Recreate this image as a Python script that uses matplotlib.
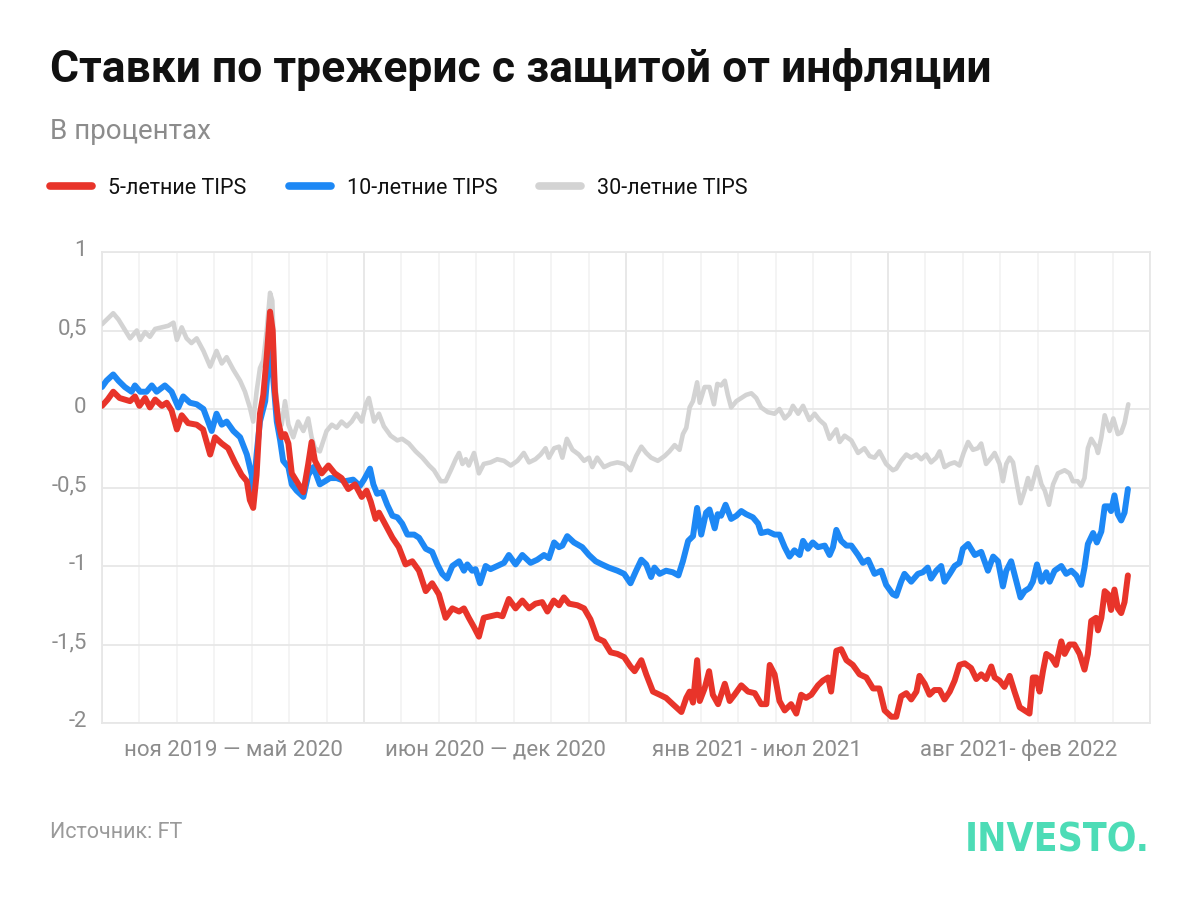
import matplotlib.pyplot as plt
from matplotlib.lines import Line2D
from matplotlib.transforms import ScaledTranslation

# Months since the start of Nov 2019, and the yield in percent
red_data = [
    (0.0, 0.02), (0.15, 0.06), (0.3, 0.11), (0.47, 0.07), (0.75, 0.05), (0.88, 0.08), (1.0, 0.02),
    (1.15, 0.07), (1.28, 0.01), (1.42, 0.06), (1.6, 0.02), (1.73, 0.04), (1.86, -0.01), (2.0, -0.13),
    (2.13, -0.04), (2.3, -0.09), (2.53, -0.10), (2.7, -0.13), (2.89, -0.29), (3.02, -0.18), (3.2, -0.22),
    (3.37, -0.25), (3.55, -0.34), (3.73, -0.42), (3.87, -0.46), (3.95, -0.58), (4.04, -0.63), (4.13, -0.42),
    (4.22, -0.03), (4.31, 0.09), (4.4, 0.33), (4.49, 0.62), (4.56, 0.50), (4.62, 0.11), (4.71, -0.08),
    (4.8, -0.18), (4.89, -0.16), (4.98, -0.22), (5.07, -0.41), (5.2, -0.46), (5.38, -0.53), (5.51, -0.35),
    (5.6, -0.21), (5.69, -0.33), (5.87, -0.41), (6.05, -0.36), (6.22, -0.41), (6.4, -0.44), (6.58, -0.51),
    (6.76, -0.48), (6.94, -0.56), (7.07, -0.52), (7.18, -0.59), (7.31, -0.70), (7.4, -0.66), (7.58, -0.74),
    (7.76, -0.82), (7.93, -0.88), (8.11, -0.99), (8.29, -0.97), (8.47, -1.03), (8.65, -1.16), (8.82, -1.11),
    (9.0, -1.18), (9.18, -1.33), (9.36, -1.27), (9.54, -1.29), (9.67, -1.27), (9.8, -1.33), (9.94, -1.39),
    (10.07, -1.45), (10.2, -1.33), (10.38, -1.32), (10.56, -1.31), (10.7, -1.32), (10.87, -1.21),
    (11.05, -1.27), (11.23, -1.22), (11.41, -1.27), (11.58, -1.24), (11.76, -1.23), (11.9, -1.29),
    (12.07, -1.22), (12.21, -1.25), (12.34, -1.20), (12.48, -1.24), (12.7, -1.25), (12.88, -1.27),
    (13.05, -1.34), (13.23, -1.46), (13.41, -1.48), (13.59, -1.55), (13.77, -1.56), (13.95, -1.58),
    (14.12, -1.64), (14.23, -1.67), (14.41, -1.60), (14.54, -1.69), (14.72, -1.80), (14.9, -1.82),
    (15.07, -1.84), (15.25, -1.88), (15.48, -1.93), (15.61, -1.84), (15.7, -1.80), (15.79, -1.87),
    (15.9, -1.60), (15.97, -1.86), (16.1, -1.78), (16.22, -1.67), (16.32, -1.82), (16.46, -1.88),
    (16.64, -1.75), (16.77, -1.86), (16.9, -1.82), (17.08, -1.76), (17.26, -1.80), (17.44, -1.81),
    (17.61, -1.88), (17.75, -1.88), (17.84, -1.63), (17.97, -1.69), (18.1, -1.86), (18.24, -1.92),
    (18.41, -1.88), (18.55, -1.94), (18.68, -1.82), (18.81, -1.84), (18.95, -1.82), (19.13, -1.76),
    (19.26, -1.73), (19.4, -1.71), (19.48, -1.80), (19.62, -1.54), (19.75, -1.53), (19.89, -1.60),
    (20.06, -1.63), (20.24, -1.69), (20.42, -1.71), (20.6, -1.78), (20.77, -1.78), (20.91, -1.92),
    (21.09, -1.96), (21.22, -1.96), (21.35, -1.83), (21.49, -1.81), (21.62, -1.85), (21.76, -1.80),
    (21.84, -1.70), (21.98, -1.75), (22.11, -1.82), (22.24, -1.79), (22.38, -1.79), (22.51, -1.85),
    (22.65, -1.80), (22.78, -1.73), (22.91, -1.63), (23.05, -1.62), (23.22, -1.65), (23.36, -1.72),
    (23.49, -1.69), (23.62, -1.72), (23.76, -1.64), (23.85, -1.71), (23.98, -1.73), (24.11, -1.77),
    (24.25, -1.70), (24.38, -1.80), (24.52, -1.90), (24.65, -1.92), (24.78, -1.94), (24.87, -1.71),
    (24.96, -1.71), (25.05, -1.80), (25.14, -1.67), (25.23, -1.56), (25.36, -1.58), (25.49, -1.63),
    (25.63, -1.48), (25.72, -1.56), (25.85, -1.50), (25.98, -1.50), (26.12, -1.56), (26.25, -1.66),
    (26.34, -1.56), (26.43, -1.35), (26.56, -1.33), (26.61, -1.41), (26.7, -1.33), (26.79, -1.16),
    (26.88, -1.18), (26.96, -1.28), (27.05, -1.15), (27.14, -1.27), (27.23, -1.30), (27.32, -1.23),
    (27.41, -1.06),
]

blue_data = [
    (0.0, 0.14), (0.12, 0.18), (0.3, 0.22), (0.44, 0.18), (0.61, 0.14), (0.79, 0.11), (0.88, 0.15),
    (1.02, 0.11), (1.19, 0.11), (1.33, 0.15), (1.46, 0.11), (1.68, 0.15), (1.86, 0.11), (2.04, 0.01),
    (2.17, 0.08), (2.35, 0.04), (2.53, 0.03), (2.71, 0.0), (2.93, -0.14), (3.06, -0.03), (3.2, -0.10),
    (3.33, -0.08), (3.51, -0.14), (3.69, -0.18), (3.87, -0.29), (4.0, -0.42), (4.04, -0.55), (4.13, -0.29),
    (4.22, -0.08), (4.36, 0.05), (4.44, 0.28), (4.49, 0.58), (4.58, 0.18), (4.67, -0.08), (4.76, -0.20),
    (4.84, -0.33), (4.98, -0.37), (5.07, -0.48), (5.2, -0.52), (5.38, -0.56), (5.51, -0.42), (5.65, -0.37),
    (5.82, -0.48), (5.96, -0.46), (6.09, -0.44), (6.27, -0.44), (6.49, -0.46), (6.71, -0.45), (6.89, -0.49),
    (7.0, -0.45), (7.16, -0.38), (7.25, -0.48), (7.35, -0.54), (7.49, -0.53), (7.62, -0.61), (7.76, -0.68),
    (7.89, -0.69), (8.02, -0.73), (8.16, -0.80), (8.34, -0.80), (8.47, -0.82), (8.65, -0.89), (8.82, -0.91),
    (8.96, -0.99), (9.09, -1.05), (9.22, -1.08), (9.36, -1.00), (9.54, -0.97), (9.67, -1.03), (9.76, -0.99),
    (9.89, -1.03), (9.98, -1.02), (10.1, -1.11), (10.25, -1.00), (10.38, -1.02), (10.56, -1.00),
    (10.74, -0.98), (10.87, -0.93), (11.05, -0.99), (11.23, -0.93), (11.45, -0.98), (11.63, -0.96),
    (11.81, -0.93), (11.94, -0.95), (12.08, -0.85), (12.21, -0.88), (12.3, -0.87), (12.43, -0.81),
    (12.61, -0.85), (12.83, -0.88), (13.01, -0.93), (13.19, -0.97), (13.36, -0.99), (13.54, -1.01),
    (13.77, -1.03), (13.95, -1.05), (14.12, -1.11), (14.27, -1.03), (14.41, -0.96), (14.54, -0.99),
    (14.67, -1.07), (14.76, -1.01), (14.9, -1.05), (15.07, -1.03), (15.25, -1.04), (15.4, -1.06),
    (15.52, -0.97), (15.66, -0.84), (15.79, -0.81), (15.9, -0.63), (16.01, -0.80), (16.14, -0.66),
    (16.23, -0.64), (16.37, -0.76), (16.45, -0.67), (16.54, -0.68), (16.66, -0.61), (16.81, -0.70),
    (16.95, -0.68), (17.08, -0.65), (17.21, -0.67), (17.39, -0.69), (17.53, -0.73), (17.61, -0.79),
    (17.79, -0.78), (17.97, -0.80), (18.1, -0.80), (18.24, -0.88), (18.37, -0.94), (18.5, -0.90),
    (18.64, -0.93), (18.73, -0.84), (18.86, -0.89), (18.99, -0.85), (19.13, -0.88), (19.31, -0.87),
    (19.44, -0.93), (19.53, -0.88), (19.62, -0.77), (19.75, -0.84), (19.89, -0.87), (20.02, -0.87),
    (20.2, -0.93), (20.33, -0.98), (20.47, -0.96), (20.64, -1.05), (20.82, -1.03), (20.95, -1.12),
    (21.13, -1.18), (21.22, -1.19), (21.35, -1.10), (21.44, -1.05), (21.62, -1.10), (21.8, -1.05),
    (21.93, -1.04), (22.06, -1.01), (22.15, -1.08), (22.29, -1.03), (22.42, -1.00), (22.51, -1.10),
    (22.65, -1.05), (22.78, -1.00), (22.91, -0.98), (23.0, -0.89), (23.14, -0.86), (23.32, -0.93),
    (23.49, -0.91), (23.67, -1.03), (23.81, -0.94), (23.94, -0.97), (24.07, -1.13), (24.16, -1.03),
    (24.29, -0.97), (24.43, -1.10), (24.54, -1.20), (24.65, -1.16), (24.78, -1.14), (24.87, -1.10),
    (24.98, -0.99), (25.1, -1.10), (25.23, -1.04), (25.32, -1.10), (25.45, -1.03), (25.63, -1.00),
    (25.76, -1.05), (25.9, -1.03), (26.03, -1.06), (26.16, -1.12), (26.25, -1.01), (26.34, -0.86),
    (26.48, -0.79), (26.58, -0.85), (26.7, -0.78), (26.79, -0.62), (26.89, -0.62), (26.96, -0.65),
    (27.05, -0.55), (27.14, -0.67), (27.23, -0.71), (27.32, -0.66), (27.41, -0.51),
]

grey_data = [
    (0.0, 0.54), (0.17, 0.58), (0.3, 0.61), (0.44, 0.57), (0.57, 0.52), (0.75, 0.45), (0.93, 0.50),
    (1.02, 0.44), (1.15, 0.49), (1.28, 0.46), (1.42, 0.51), (1.59, 0.52), (1.77, 0.53), (1.91, 0.55),
    (2.0, 0.44), (2.13, 0.52), (2.26, 0.45), (2.39, 0.42), (2.53, 0.45), (2.71, 0.37), (2.89, 0.27),
    (3.06, 0.37), (3.2, 0.29), (3.33, 0.33), (3.51, 0.25), (3.69, 0.18), (3.82, 0.11), (3.95, 0.01),
    (4.04, -0.08), (4.13, 0.11), (4.22, 0.26), (4.31, 0.31), (4.4, 0.50), (4.49, 0.74), (4.55, 0.69),
    (4.62, 0.18), (4.71, -0.03), (4.8, -0.10), (4.89, 0.05), (4.98, -0.10), (5.11, -0.18), (5.24, -0.08),
    (5.38, -0.14), (5.51, -0.06), (5.6, -0.18), (5.69, -0.25), (5.82, -0.27), (6.0, -0.14), (6.14, -0.10),
    (6.27, -0.12), (6.4, -0.08), (6.54, -0.11), (6.67, -0.08), (6.8, -0.03), (6.94, -0.08), (7.05, 0.03),
    (7.13, 0.07), (7.27, -0.08), (7.4, -0.03), (7.53, -0.11), (7.71, -0.17), (7.89, -0.20), (8.02, -0.19),
    (8.2, -0.22), (8.38, -0.27), (8.56, -0.31), (8.74, -0.36), (8.87, -0.39), (9.05, -0.46), (9.18, -0.46),
    (9.32, -0.39), (9.45, -0.32), (9.54, -0.28), (9.63, -0.35), (9.72, -0.32), (9.8, -0.36), (9.94, -0.28),
    (10.07, -0.41), (10.2, -0.35), (10.38, -0.34), (10.56, -0.32), (10.74, -0.33), (10.92, -0.36),
    (11.1, -0.33), (11.27, -0.28), (11.41, -0.34), (11.58, -0.32), (11.72, -0.29), (11.85, -0.25),
    (11.94, -0.31), (12.08, -0.25), (12.21, -0.24), (12.3, -0.31), (12.42, -0.19), (12.57, -0.26),
    (12.74, -0.29), (12.88, -0.33), (13.01, -0.31), (13.1, -0.37), (13.23, -0.31), (13.41, -0.37),
    (13.59, -0.35), (13.77, -0.34), (13.95, -0.35), (14.12, -0.39), (14.27, -0.30), (14.41, -0.24),
    (14.54, -0.28), (14.67, -0.31), (14.85, -0.33), (15.03, -0.30), (15.16, -0.27), (15.3, -0.23),
    (15.43, -0.26), (15.52, -0.16), (15.61, -0.12), (15.7, 0.01), (15.79, 0.05), (15.9, 0.17),
    (15.97, 0.04), (16.1, 0.14), (16.23, 0.14), (16.35, 0.03), (16.44, 0.16), (16.54, 0.15), (16.64, 0.18),
    (16.72, 0.09), (16.81, 0.01), (16.95, 0.05), (17.08, 0.07), (17.21, 0.09), (17.35, 0.10), (17.48, 0.07),
    (17.61, 0.01), (17.79, -0.02), (17.97, -0.03), (18.1, 0.00), (18.24, -0.06), (18.37, -0.03),
    (18.46, 0.02), (18.6, -0.03), (18.73, 0.02), (18.9, -0.07), (19.04, -0.03), (19.17, -0.07),
    (19.31, -0.10), (19.44, -0.19), (19.62, -0.13), (19.71, -0.21), (19.84, -0.17), (20.02, -0.20),
    (20.2, -0.28), (20.37, -0.25), (20.51, -0.30), (20.64, -0.31), (20.77, -0.27), (20.95, -0.35),
    (21.13, -0.39), (21.22, -0.38), (21.35, -0.33), (21.49, -0.29), (21.62, -0.31), (21.76, -0.29),
    (21.89, -0.32), (22.02, -0.29), (22.15, -0.34), (22.29, -0.31), (22.38, -0.27), (22.51, -0.37),
    (22.65, -0.35), (22.78, -0.34), (22.91, -0.36), (23.02, -0.28), (23.14, -0.21), (23.27, -0.26),
    (23.4, -0.25), (23.49, -0.22), (23.62, -0.35), (23.76, -0.31), (23.85, -0.28), (23.98, -0.35),
    (24.07, -0.46), (24.16, -0.35), (24.25, -0.31), (24.34, -0.34), (24.43, -0.46), (24.54, -0.60),
    (24.65, -0.52), (24.74, -0.44), (24.82, -0.51), (24.98, -0.37), (25.1, -0.48), (25.19, -0.52),
    (25.3, -0.61), (25.41, -0.48), (25.54, -0.41), (25.72, -0.39), (25.85, -0.41), (25.94, -0.46),
    (26.07, -0.46), (26.16, -0.49), (26.25, -0.44), (26.34, -0.25), (26.43, -0.19), (26.56, -0.24),
    (26.61, -0.28), (26.7, -0.18), (26.79, -0.04), (26.92, -0.14), (27.02, -0.06), (27.14, -0.16),
    (27.23, -0.15), (27.32, -0.09), (27.42, 0.03),
]

series_names = ['5-летние TIPS', '10-летние TIPS', '30-летние TIPS']
series_colors = ['#e8342a', '#1d88f5', '#d3d3d3']

y_ticks = [1, 0.5, 0, -0.5, -1, -1.5, -2]
y_labels = ['1', '0,5', '0', '-0,5', '-1', '-1,5', '-2']

section_edges = [0, 7, 14, 21, 28]
section_labels = ['ноя 2019 — май 2020', 'июн 2020 — дек 2020',
                  'янв 2021 - июл 2021', 'авг 2021- фев 2022']

plt.rcParams['font.family'] = ['Roboto', 'DejaVu Sans']

fig = plt.figure(figsize=(12, 9), dpi=100)
ax = fig.add_axes([102 / 1200, 1 - 723 / 900, 1048 / 1200, 471 / 900])

# grey first so the coloured lines sit on top
for data, color, lw in [(grey_data, series_colors[2], 3.3),
                        (blue_data, series_colors[1], 4.3),
                        (red_data, series_colors[0], 4.3)]:
    months, values = zip(*data)
    ax.plot(months, values, color=color, lw=lw, solid_joinstyle='round',
            solid_capstyle='round', zorder=3)

ax.set_xlim(0, 28)
ax.set_ylim(-2, 1)

# monthly light grid, darker lines between the half-year sections
ax.set_xticks(range(29))
ax.set_xticklabels([])
ax.xaxis.grid(True, color='#f3f3f3', lw=1.3)
for edge in section_edges:
    ax.axvline(edge, color='#e7e7e7', lw=1.3, zorder=1)
centers = [(a + b) / 2 for a, b in zip(section_edges[:-1], section_edges[1:])]
ax.set_xticks(centers, minor=True)
ax.set_xticklabels(section_labels, minor=True)

ax.set_yticks(y_ticks)
ax.set_yticklabels(y_labels)
ax.yaxis.grid(True, color='#e7e7e7', lw=1.3)
ax.set_axisbelow(True)

ax.tick_params(axis='both', which='both', length=0, labelsize=16, labelcolor='#8c8c8c')
ax.tick_params(axis='x', which='minor', pad=12)
ax.tick_params(axis='y', pad=11)
for lbl in ax.get_yticklabels():
    lbl.set_transform(lbl.get_transform() + ScaledTranslation(0, 0.04, fig.dpi_scale_trans))

for spine in ax.spines.values():
    spine.set_color('#e7e7e7')
    spine.set_linewidth(1.3)

fig.text(50 / 1200, 1 - 82 / 900, 'Ставки по трежерис с защитой от инфляции',
         fontsize=32, fontweight='bold', color='#111111', va='baseline')
fig.text(50 / 1200, 1 - 139 / 900, 'В процентах', fontsize=20, color='#8c8c8c', va='baseline')

handles = [Line2D([], [], color=c, lw=5.5, solid_capstyle='round') for c in series_colors]
fig.legend(handles, series_names, loc='center left', bbox_to_anchor=(31 / 1200, 1 - 188 / 900),
           ncol=3, frameon=False, fontsize=15.5, handlelength=1.95, handletextpad=0.75,
           columnspacing=1.95, labelcolor='#111111')

fig.text(50 / 1200, 1 - 838 / 900, 'Источник: FT', fontsize=15.5, color='#9a9a9a', va='baseline')
fig.text(1150 / 1200, 1 - 851 / 900, 'INVESTO.', fontsize=28, fontweight='bold', color='#4ddcb6',
         ha='right', va='baseline', family=['DejaVu Sans'], fontstretch='condensed')

fig.savefig('out.png', dpi=100)
